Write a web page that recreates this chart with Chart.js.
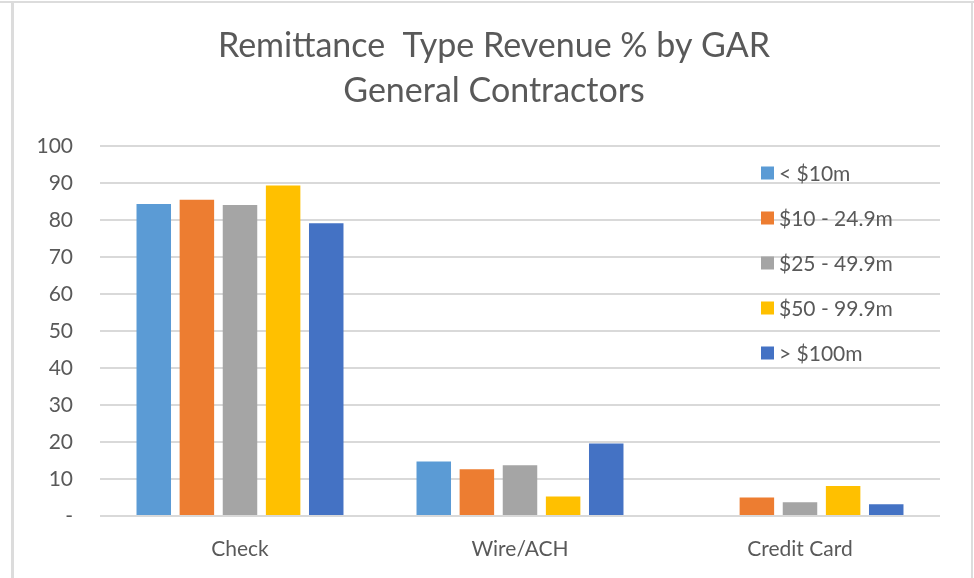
<!DOCTYPE html>
<html>
<head>
<meta charset="utf-8">
<script src="https://cdn.jsdelivr.net/npm/chart.js@4/dist/chart.umd.min.js"></script>
<style>
  body { margin: 0; background: #fff; }
  #wrap { position: relative; width: 974px; height: 578px; }
  .frame { position: absolute; background: #dcdcdc; }
</style>
</head>
<body>
<div id="wrap">
  <canvas id="myChart" width="974" height="578"></canvas>
  <div class="frame" style="left:0;top:1px;width:974px;height:2px"></div>
  <div class="frame" style="left:11px;top:1px;width:3px;height:577px"></div>
  <div class="frame" style="left:971px;top:1px;width:2px;height:577px"></div>
</div>
<script>
// categories on the x axis
let categories = ['Check', 'Wire/ACH', 'Credit Card']

// GAR bands (legend) and their values, % of revenue
let bands = ['< $10m', '$10 - 24.9m', '$25 - 49.9m', '$50 - 99.9m', '> $100m']
let under10 = [84.3, 14.7, 0]
let from10 = [85.4, 12.6, 5.0]
let from25 = [84.0, 13.7, 3.7]
let from50 = [89.3, 5.3, 8.1]
let over100 = [79.1, 19.6, 3.2]

let colors = ['#5b9bd5', '#ed7d31', '#a5a5a5', '#ffc000', '#4472c4']
let txt = '#595959'
let font = 'Lato'

// legend drawn inside the plot, over the gridlines (like the Excel one)
const insideLegend = {
  id: 'insideLegend',
  afterDatasetsDraw(chart) {
    let ctx = chart.ctx
    ctx.save()
    ctx.font = '21px ' + font
    ctx.textBaseline = 'middle'
    chart.data.datasets.forEach((ds, i) => {
      let y = 173 + i * 45
      ctx.fillStyle = ds.backgroundColor
      ctx.fillRect(761, y - 6.5, 13, 13)
      ctx.fillStyle = txt
      ctx.fillText(ds.label, 779, y + 1)
    })
    ctx.restore()
  }
}

let series = [under10, from10, from25, from50, over100]

var ctx = document.getElementById('myChart').getContext('2d');
var myChart = new Chart(ctx, {
  type: 'bar',
  data: {
    labels: categories,
    datasets: series.map((s, i) => ({
      label: bands[i],
      data: s,
      backgroundColor: colors[i],
      barPercentage: 0.8,
      categoryPercentage: 0.77
    }))
  },
  plugins: [insideLegend],
  options: {
    responsive: false,
    animation: false,
    layout: { padding: { left: 36, right: 22, top: 0, bottom: 0 } },
    plugins: {
      legend: { display: false },
      tooltip: { enabled: false },
      title: {
        display: true,
        text: ['Remittance  Type Revenue % by GAR', 'General Contractors'],
        color: txt,
        font: { family: font, size: 34, weight: 'normal', lineHeight: 1.32 },
        padding: { top: 24, bottom: 32 }
      }
    },
    scales: {
      x: {
        grid: { display: false },
        border: { display: false },
        ticks: { color: txt, font: { family: font, size: 21 }, padding: 13 },
        afterFit: (s) => { s.height = 62 }
      },
      y: {
        min: 0,
        max: 100,
        border: { display: false },
        grid: { color: '#d9d9d9', lineWidth: 2, drawTicks: false },
        ticks: {
          stepSize: 10,
          color: txt,
          font: { family: font, size: 21 },
          padding: 27,
          callback: (v) => v === 0 ? '-' : v
        },
        afterFit: (s) => { s.width = 64 }
      },
      // empty spacer on the right so the title centres like the original
      spacer: {
        type: 'linear',
        position: 'right',
        grid: { display: false },
        border: { display: false },
        ticks: { display: false },
        afterFit: (s) => { s.width = 12 }
      }
    }
  }
});
</script>
</body>
</html>
